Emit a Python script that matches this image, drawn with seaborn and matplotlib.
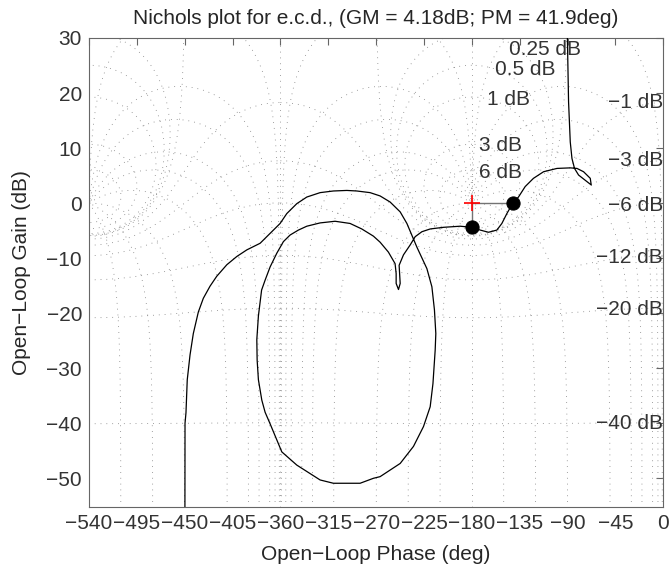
import numpy as np
import pandas as pd
import matplotlib
matplotlib.use("Agg")
import matplotlib.pyplot as plt
import seaborn as sns

# --- data ---
# open-loop response (phase in deg, gain in dB), in drawing order
PHASE = [-90.3, -89.1, -87.5, -85.9, -83.5, -79.7, -71.8, -67.8, -68.7, -75.0,
         -81.2, -87.5, -100.0, -112.6, -122.1, -129.9, -136.2, -141.5, -147.1, -151.8,
         -156.5, -164.4, -172.2, -180.0, -191.0, -206.7, -219.2, -227.0, -233.3, -238.0,
         -244.3, -248.4, -247.4, -249.0, -251.2, -251.2, -252.2, -258.5, -266.3, -272.6,
         -283.5, -294.5, -308.6, -322.7, -335.2, -343.1, -350.9, -357.2, -363.4, -369.7,
         -374.4, -377.7, -380.7, -382.2, -381.9, -380.7, -377.5, -374.4, -369.7, -358.7,
         -344.6, -322.7, -310.2, -285.1, -272.6, -266.3, -247.4, -234.9, -225.5, -219.2,
         -216.6, -214.5, -213.9, -215.2, -217.6, -222.3, -231.7, -241.1, -247.4, -256.9,
         -266.3, -275.7, -288.2, -297.6, -310.2, -322.7, -335.2, -344.6, -354.0, -360.3,
         -369.7, -379.1, -391.6, -401.0, -410.4, -419.9, -426.2, -432.5, -437.2, -441.9,
         -445.0, -447.6, -448.8, -449.7, -449.8]
GAIN = [31.0, 18.4, 11.1, 8.1, 6.3, 5.1, 3.9, 3.3, 4.5, 5.7,
        6.3, 6.4, 6.3, 5.7, 4.5, 3.0, 1.1, 0.0, -1.9, -3.7,
        -4.9, -5.3, -4.9, -4.4, -4.2, -4.4, -4.7, -5.2, -6.1, -7.6,
        -9.4, -11.3, -14.6, -15.7, -14.6, -12.8, -11.0, -8.9, -7.1, -6.0,
        -4.7, -3.7, -3.3, -3.6, -4.2, -4.9, -5.8, -7.0, -9.1, -11.6,
        -14.0, -15.8, -20.5, -24.8, -28.5, -32.1, -35.8, -38.0, -40.1, -45.2,
        -47.6, -50.3, -50.9, -50.9, -50.0, -49.7, -47.3, -44.2, -40.6, -37.0,
        -32.8, -26.7, -23.7, -19.4, -15.2, -11.9, -8.0, -3.7, -1.6, 0.2,
        1.3, 1.9, 2.2, 2.3, 2.2, 1.9, 1.1, -0.1, -1.9, -3.7,
        -5.5, -7.3, -8.5, -9.7, -11.2, -13.3, -15.1, -17.3, -19.8, -23.7,
        -27.6, -32.1, -38.1, -40.0, -57.0]

# margin points
GM_PHASE, GM_GAIN = -180.0, -4.4
PM_PHASE, PM_GAIN = -141.5, 0.0

# Nichols grid levels
CL_MAG_DB = [6, 3, 1, 0.5, 0.25, 0, -1, -3, -6, -12, -20, -40]
CL_PHASE = [-1, -5, -10, -20, -30, -50, -90, -120, -150, -210, -240, -270,
            -310, -330, -340, -350, -355, -359]

POS_LABELS = ["0.25 dB", "0.5 dB", "1 dB", "3 dB", "6 dB"]
POS_LABEL_X = [-144.9, -158.1, -165.6, -173.1, -173.1]
POS_LABEL_Y = [27.9, 24.3, 18.9, 10.5, 5.6]
NEG_LABELS = ["\u22121 dB", "\u22123 dB", "\u22126 dB", "\u221212 dB", "\u221220 dB", "\u221240 dB"]
NEG_LABEL_Y = [18.2, 7.8, -0.4, -9.8, -19.4, -40.1]

XTICKS = list(range(-540, 1, 45))
YTICKS = list(range(-50, 31, 10))

FS = 15

sns.set_style("white")
plt.rcParams["font.family"] = ["Liberation Sans", "DejaVu Sans"]
plt.rcParams["axes.unicode_minus"] = True

fig = plt.figure(figsize=(6.72, 5.71), dpi=100)
ax = fig.add_axes([0.1324, 0.1126, 0.8547, 0.8209])

grid_kw = dict(color="0.5", lw=0.6, ls=(0, (1, 6)), zorder=1)
shifts = [0, -360, -720]

# constant closed-loop magnitude contours
th = np.linspace(-359.99, -0.01, 3000)
for m in CL_MAG_DB:
    T = 10 ** (m / 20) * np.exp(1j * np.radians(th))
    G = T / (1 - T)
    ph = th - np.degrees(np.unwrap(np.angle(1 - T)))
    mid = len(th) // 2
    ph = ph - 360 * np.round((ph[mid] + 180) / 360)
    gn = 20 * np.log10(np.abs(G))
    for s in shifts:
        ax.plot(ph + s, gn, **grid_kw)

# constant closed-loop phase contours
r = np.logspace(-4, 4, 4000)
for p in CL_PHASE:
    T = r * np.exp(1j * np.radians(p))
    G = T / (1 - T)
    ph = p - np.degrees(np.unwrap(np.angle(1 - T)))
    gn = 20 * np.log10(np.abs(G))
    for s in shifts:
        ax.plot(ph + s, gn, **grid_kw)
for v in range(-540, 1, 180):
    ax.axvline(v, **grid_kw)

# gain / phase margin markers
ax.plot([GM_PHASE, GM_PHASE], [0, GM_GAIN], color="0.45", lw=1, zorder=2)
ax.plot([GM_PHASE, PM_PHASE], [0, PM_GAIN], color="0.45", lw=1, zorder=2)
ax.plot([GM_PHASE], [0], marker="+", color="red", ms=12, mew=1.2, zorder=3)

df = pd.DataFrame({"phase": PHASE, "gain": GAIN})
sns.lineplot(data=df, x="phase", y="gain", sort=False, estimator=None,
             color="black", lw=0.9, ax=ax, zorder=4)
sns.scatterplot(x=[GM_PHASE, PM_PHASE], y=[GM_GAIN, PM_GAIN], color="black",
                s=90, edgecolor="black", ax=ax, zorder=5)

# grid labels
lab_kw = dict(fontsize=FS, color="0.2", va="center", zorder=6)
for t, x, y in zip(POS_LABELS, POS_LABEL_X, POS_LABEL_Y):
    ax.text(x, y, t, ha="left", **lab_kw)
for t, y in zip(NEG_LABELS, NEG_LABEL_Y):
    ax.text(-0.5, y, t, ha="right", **lab_kw)

ax.set_xlim(-540, 0)
ax.set_ylim(-55.16, 30)
ax.set_xticks(XTICKS)
ax.set_yticks(YTICKS)
ax.tick_params(direction="in", length=5, width=0.8, top=True, right=True,
               colors="0.4", labelcolor="0.2", labelsize=FS, pad=5)
for sp in ax.spines.values():
    sp.set_color("0.4")
    sp.set_linewidth(0.8)

ax.set_title("Nichols plot for e.c.d., (GM = 4.18dB; PM = 41.9deg)", fontsize=FS, pad=10)
ax.set_xlabel("Open\u2212Loop Phase (deg)", fontsize=FS, labelpad=9)
ax.set_ylabel("Open\u2212Loop Gain (dB)", fontsize=FS, labelpad=11)

fig.savefig("out.png", dpi=100)
